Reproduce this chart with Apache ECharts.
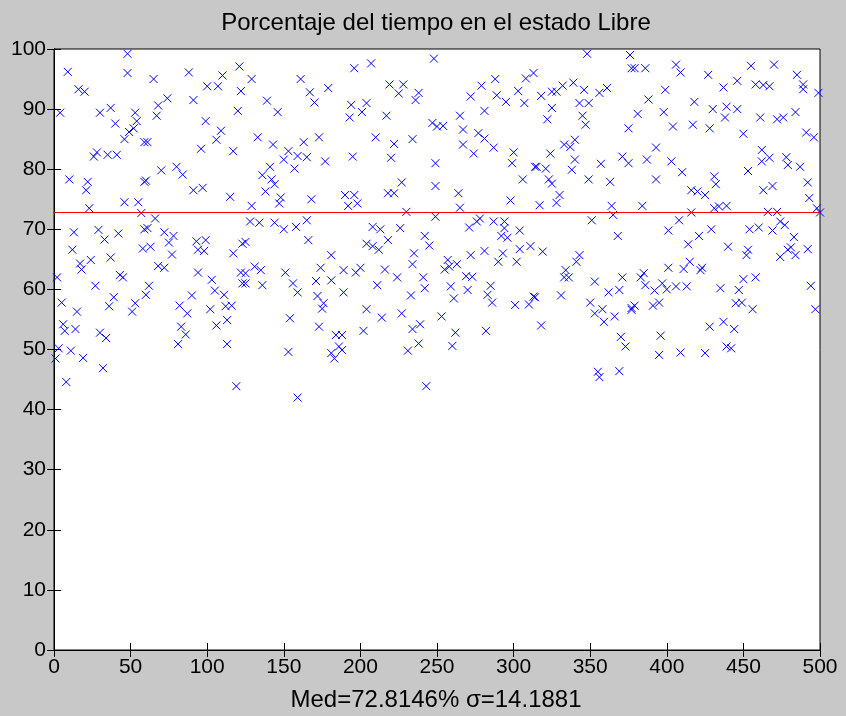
<!DOCTYPE html>
<html>
<head>
<meta charset="utf-8">
<script src="https://cdn.jsdelivr.net/npm/echarts@6/dist/echarts.min.js"></script>
<style>
  html, body { margin: 0; padding: 0; background: #c8c8c8; }
  #chart { width: 846px; height: 716px; }
</style>
</head>
<body>
<div id="chart"></div>
<script>
  const titleText = 'Porcentaje del tiempo en el estado Libre'
  const xLabelText = 'Med=72.8146% σ=14.1881'
  const meanVal = 72.8146 // media del porcentaje
  const xTicks = [0, 50, 100, 150, 200, 250, 300, 350, 400, 450, 500]
  const yTicks = [0, 10, 20, 30, 40, 50, 60, 70, 80, 90, 100]

  // [muestra, porcentaje libre]
  const points = [
    [48,99.2],[9,96.2],[48,96.0],[16,93.3],[20,92.9],[4,89.4],[30,89.4],[37,90.2],[40,87.6],[53,89.4],
    [54,88.0],[52,86.8],[49,86.2],[46,85.0],[59,84.5],[28,82.8],[26,82.1],[35,82.4],[41,82.4],[10,78.3],
    [22,77.9],[21,76.5],[59,77.9],[23,73.5],[46,74.5],[55,74.5],[57,72.7],[59,70.0],[13,69.5],[29,69.9],
    [33,68.3],[42,69.3],[12,66.6],[58,66.8],[17,64.3],[18,63.3],[24,64.9],[37,65.3],[2,62.0],[43,62.4],
    [45,62.0],[27,60.6],[5,57.8],[15,56.3],[39,58.7],[36,57.2],[53,57.7],[51,56.3],[60,59.1],[6,54.2],
    [7,53.1],[14,53.4],[30,52.8],[34,51.9],[3,50.2],[11,49.8],[19,48.6],[1,48.5],[32,46.9],[8,44.6],

    [65,95.0],[88,96.1],[110,95.6],[121,97.1],[100,93.8],[107,93.8],[122,93.0],[74,91.8],[68,90.6],[91,91.5],
    [67,88.9],[120,89.7],[99,88.0],[109,86.4],[106,84.9],[96,83.4],[117,83.0],[61,84.5],[70,79.8],[80,80.4],
    [84,79.1],[60,78.1],[91,76.5],[97,76.9],[115,75.4],[66,71.8],[61,70.2],[72,69.5],[78,68.9],[75,67.8],
    [63,67.1],[77,65.8],[93,68.0],[99,68.2],[94,66.6],[98,66.4],[117,66.0],[123,67.6],[68,63.9],[72,63.6],
    [94,62.8],[103,61.6],[122,62.8],[105,59.8],[111,59.1],[62,60.6],[90,59.0],[82,57.3],[87,56.0],[102,56.7],
    [112,57.2],[116,57.3],[113,54.9],[83,53.8],[86,52.5],[106,54.0],[81,50.9],[113,50.9],[119,43.9],[123,61.0],

    [129,95.0],[161,95.0],[167,92.8],[170,91.1],[179,93.5],[139,91.4],[146,89.5],[133,85.3],[143,84.1],[163,84.5],
    [173,85.3],[153,83.0],[150,81.6],[159,82.2],[165,82.0],[177,81.3],[141,80.4],[136,79.0],[157,80.1],[142,78.3],
    [144,77.5],[138,76.3],[148,75.3],[147,74.3],[168,75.0],[129,73.9],[128,71.3],[134,71.1],[144,71.1],[150,70.0],
    [158,70.4],[165,71.5],[166,68.2],[125,67.9],[181,65.7],[131,63.8],[135,63.2],[125,62.7],[151,62.8],[174,63.6],
    [125,61.0],[136,60.7],[156,61.0],[159,59.5],[171,61.4],[181,61.5],[172,58.9],[176,57.7],[175,56.8],[154,55.2],
    [173,53.8],[184,52.4],[186,50.5],[181,49.4],[183,48.5],[153,49.6],[159,42.0],

    [196,96.8],[207,97.6],[248,98.4],[219,94.1],[228,94.1],[225,92.6],[238,92.7],[236,91.5],[194,90.7],[204,91.0],
    [193,88.6],[201,89.5],[217,88.9],[247,87.7],[250,87.1],[210,85.3],[222,84.2],[234,85.0],[195,82.1],[220,81.9],
    [249,81.0],[227,77.8],[249,77.2],[190,75.7],[196,75.7],[192,73.9],[198,74.3],[218,76.0],[222,76.0],[230,72.9],
    [249,72.1],[208,70.4],[213,70.0],[226,70.2],[204,67.6],[208,67.2],[212,66.6],[218,68.2],[242,68.9],[245,67.3],
    [235,66.0],[234,64.2],[189,63.2],[197,62.8],[200,63.6],[216,63.3],[224,62.0],[241,62.0],[242,60.2],[211,60.7],
    [189,59.5],[233,59.0],[204,56.7],[214,55.3],[227,56.0],[239,54.2],[234,53.4],[202,53.1],[238,51.0],[231,49.8],
    [188,52.4],[188,49.9],[243,43.9],

    [288,95.0],[279,93.9],[308,95.1],[313,96.0],[272,92.1],[289,92.3],[295,91.2],[303,93.0],[307,91.0],[281,89.7],
    [265,88.9],[254,87.2],[267,86.6],[277,86.0],[281,85.1],[267,84.1],[287,83.6],[274,82.6],[300,82.8],[299,81.0],
    [314,80.4],[306,78.3],[264,76.0],[265,73.6],[298,74.8],[271,70.3],[276,71.3],[278,71.8],[287,71.3],[294,71.3],
    [294,70.2],[292,68.9],[296,68.6],[304,69.8],[311,67.2],[272,65.7],[281,66.4],[293,66.0],[290,64.6],[304,66.7],
    [302,64.6],[257,64.9],[255,63.3],[263,64.2],[258,63.8],[269,62.2],[273,62.1],[259,60.5],[270,59.9],[285,60.6],
    [283,59.1],[286,57.8],[261,58.5],[301,57.4],[310,57.5],[313,58.8],[253,55.5],[262,52.8],[282,53.1],[260,50.6],

    [348,99.2],[376,99.0],[377,96.8],[339,94.4],[332,93.9],[346,93.2],[328,92.9],[325,92.9],[318,92.2],[356,92.7],
    [361,93.5],[325,90.2],[343,91.0],[349,91.0],[345,88.9],[347,87.4],[322,88.3],[375,86.8],[333,84.1],[337,83.7],
    [340,84.9],[324,82.6],[340,81.6],[338,79.9],[357,80.9],[371,82.1],[375,81.0],[315,80.4],[321,80.1],[323,78.3],
    [325,77.6],[349,78.3],[363,77.9],[330,75.7],[328,74.4],[317,74.0],[364,73.9],[365,72.4],[351,71.5],[368,68.9],
    [319,66.3],[343,65.7],[341,64.6],[334,63.2],[333,62.0],[336,62.0],[353,61.3],[371,62.0],[362,59.5],[369,59.9],
    [331,59.0],[314,58.7],[350,57.8],[353,56.0],[358,56.7],[359,54.6],[366,55.5],[377,56.9],[318,54.0],[370,52.1],
    [373,50.5],[355,46.3],[356,45.4],[369,46.4],

    [379,96.8],[386,96.8],[406,97.4],[409,96.1],[427,95.7],[437,93.6],[399,93.2],[388,91.6],[418,91.2],[381,89.2],
    [398,89.5],[430,90.0],[439,90.4],[438,88.6],[404,87.1],[417,87.4],[428,86.8],[393,83.6],[387,81.6],[403,81.3],
    [410,79.5],[393,78.3],[431,78.8],[432,77.5],[416,76.5],[420,76.3],[425,75.7],[384,73.9],[416,72.8],[431,73.5],
    [434,73.8],[439,73.9],[408,71.5],[401,69.8],[429,70.0],[421,68.9],[414,67.5],[440,67.1],[415,64.6],[411,63.4],
    [401,63.6],[422,63.2],[423,63.6],[385,62.7],[383,62.0],[386,60.7],[392,59.8],[397,61.0],[400,60.0],[406,60.5],
    [413,60.5],[435,60.2],[379,57.3],[377,56.6],[391,57.3],[395,57.8],[428,53.8],[437,54.6],[396,52.3],[439,50.5],
    [395,49.1],[409,49.5],[425,49.4],

    [455,97.2],[470,97.4],[485,95.7],[489,94.1],[489,93.3],[499,92.7],[446,94.7],[458,94.1],[463,94.0],[467,93.8],
    [446,90.0],[461,88.6],[472,88.3],[476,88.6],[484,89.5],[450,85.9],[491,86.1],[496,85.3],[462,83.2],[462,81.3],
    [467,81.9],[478,82.0],[479,80.7],[487,80.4],[453,79.7],[492,77.8],[463,76.5],[469,77.2],[493,75.2],[498,73.5],
    [500,72.8],[466,72.9],[472,72.9],[454,70.0],[460,70.3],[469,69.8],[474,71.3],[477,70.7],[483,68.7],[453,66.6],
    [452,65.7],[474,65.4],[479,66.6],[481,67.0],[484,65.7],[492,66.7],[450,61.7],[458,62.0],[447,59.9],[445,57.7],
    [449,57.8],[456,56.7],[494,60.6],[497,56.7],[444,53.4],[442,50.2]
  ]

  const fontFam = '"Liberation Sans", Arial, sans-serif'
  const chart = echarts.init(document.getElementById('chart'), null, { renderer: 'canvas' })

  const xStep = xTicks[1] - xTicks[0]
  const yStep = yTicks[1] - yTicks[0]
  const tickStyle = { show: true, inside: true, length: 7, lineStyle: { color: '#000', width: 1 } }
  const lineAxis = { show: true, lineStyle: { color: '#000', width: 1 } }
  const labelStyle = { color: '#000', fontFamily: fontFam, fontSize: 21 }

  chart.setOption({
    animation: false,
    backgroundColor: '#c8c8c8',
    textStyle: { fontFamily: fontFam },
    grid: {
      left: 54,
      right: 26,
      top: 49,
      bottom: 66,
      show: true,
      backgroundColor: '#ffffff',
      borderColor: '#000',
      borderWidth: 1
    },
    graphic: [{
      type: 'text',
      x: 436,
      y: 23,
      style: {
        text: titleText,
        fill: '#000',
        font: '24px ' + fontFam,
        textAlign: 'center',
        textVerticalAlign: 'middle'
      }
    }, {
      type: 'text',
      x: 436,
      y: 700,
      style: {
        text: xLabelText,
        fill: '#000',
        font: '24px ' + fontFam,
        textAlign: 'center',
        textVerticalAlign: 'middle'
      }
    }],
    xAxis: [{
      type: 'value',
      min: xTicks[0],
      max: xTicks[xTicks.length - 1],
      interval: xStep,
      position: 'bottom',
      axisLine: lineAxis,
      axisTick: tickStyle,
      splitLine: { show: false },
      axisLabel: Object.assign({ margin: 7 }, labelStyle)
    }, {
      type: 'value',
      min: xTicks[0],
      max: xTicks[xTicks.length - 1],
      interval: xStep,
      position: 'top',
      axisLine: lineAxis,
      axisTick: tickStyle,
      splitLine: { show: false },
      axisLabel: { show: false }
    }],
    yAxis: [{
      type: 'value',
      min: yTicks[0],
      max: yTicks[yTicks.length - 1],
      interval: yStep,
      position: 'left',
      axisLine: lineAxis,
      axisTick: tickStyle,
      splitLine: { show: false },
      axisLabel: Object.assign({ margin: 8 }, labelStyle)
    }, {
      type: 'value',
      min: yTicks[0],
      max: yTicks[yTicks.length - 1],
      interval: yStep,
      position: 'right',
      axisLine: lineAxis,
      axisTick: tickStyle,
      splitLine: { show: false },
      axisLabel: { show: false }
    }],
    series: [{
      name: 'Libre',
      type: 'scatter',
      xAxisIndex: 0,
      yAxisIndex: 0,
      progressive: 0,
      large: false,
      symbol: 'path://M0,0L10,10M10,0L0,10',
      symbolSize: 8,
      itemStyle: {
        color: '#0000ff',
        borderColor: '#0000ff',
        borderWidth: 1,
        opacity: 1
      },
      data: points,
      markLine: {
        silent: true,
        symbol: 'none',
        label: { show: false },
        lineStyle: { color: '#ff0000', width: 1, type: 'solid' },
        data: [{ yAxis: meanVal }]
      }
    }]
  })
</script>
</body>
</html>
